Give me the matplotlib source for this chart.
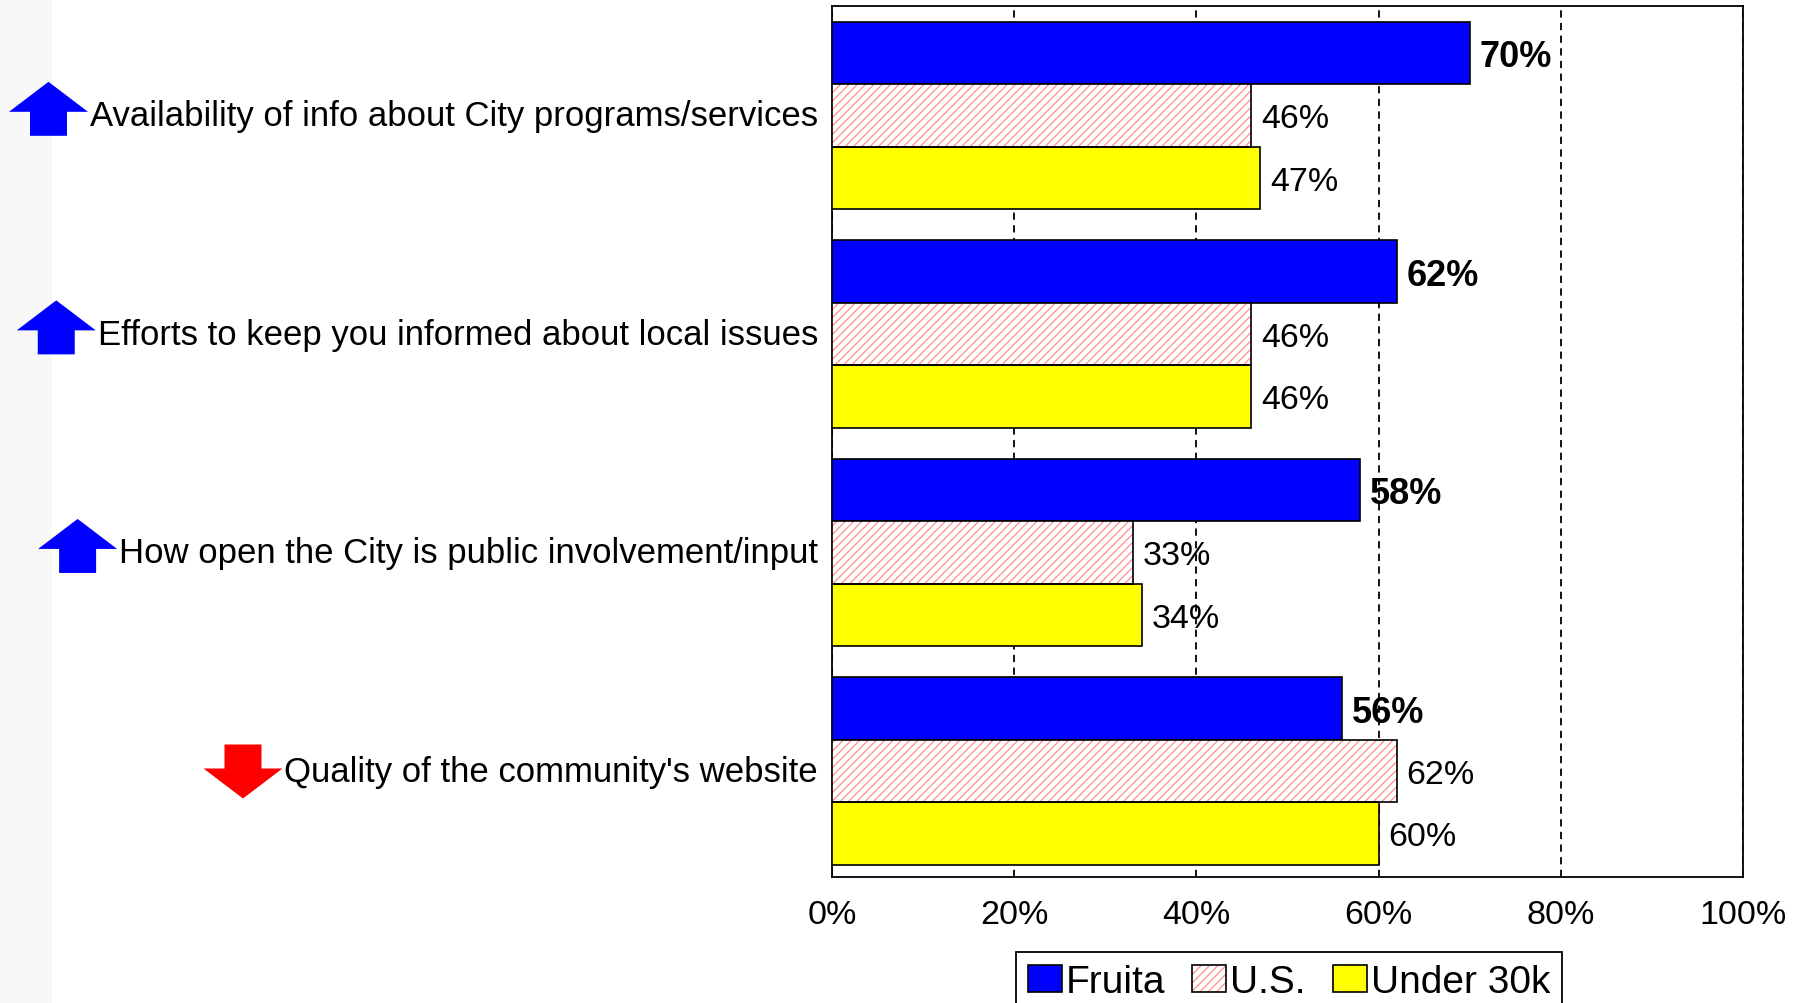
import matplotlib
matplotlib.use("Agg")
import matplotlib.pyplot as plt
import numpy as np
from matplotlib.patches import Polygon, Rectangle, Patch
from matplotlib.transforms import IdentityTransform, ScaledTranslation

plt.rcParams['font.family'] = ['Liberation Sans', 'DejaVu Sans']
plt.rcParams['hatch.linewidth'] = 0.9

# Survey items and the direction of change for each
categories = [
    "Availability of info about City programs/services",
    "Efforts to keep you informed about local issues",
    "How open the City is public involvement/input",
    "Quality of the community's website",
]
trend = ["up", "up", "up", "down"]

# Percent rating each item positively
fruita = [70, 62, 58, 56]
us = [46, 46, 33, 62]
under30k = [47, 46, 34, 60]

series_names = ["Fruita", "U.S.", "Under 30k"]
xtick_values = [0, 20, 40, 60, 80, 100]
xtick_labels = ["0%", "20%", "40%", "60%", "80%", "100%"]

BLUE = "#0000ff"
YELLOW = "#ffff00"
HATCH_RED = "#ff8c8c"

fig = plt.figure(figsize=(18.04, 10.04), dpi=100)

# faint strip along the left edge
fig.patches.append(Rectangle((0, 0), 52 / 1804, 1, transform=fig.transFigure,
                             facecolor="#f8f8f8", edgecolor="none", zorder=0))

ax = fig.add_axes([0.4612, 0.1255, 0.505, 0.8675])

h = 0.2857
y = np.arange(len(categories))
ew = 1.2

ax.barh(y - h, fruita, height=h, color=BLUE, edgecolor="black", linewidth=ew, zorder=3)
ax.barh(y, us, height=h, color="white", edgecolor=HATCH_RED, hatch="////", linewidth=0, zorder=3)
ax.barh(y, us, height=h, fill=False, edgecolor="black", linewidth=ew, zorder=4)
ax.barh(y + h, under30k, height=h, color=YELLOW, edgecolor="black", linewidth=ew, zorder=3)

for vals, off, weight, fs in [(fruita, -h, "bold", 26), (us, 0, "normal", 24.5),
                              (under30k, h, "normal", 24.5)]:
    for i, v in enumerate(vals):
        ax.annotate(f"{v}%", xy=(v, i + off), xytext=(7, 0), textcoords="offset points",
                    ha="left", va="center_baseline", fontsize=fs, fontweight=weight,
                    color="black", zorder=5)

ax.set_xlim(0, 100)
ax.set_ylim(len(categories) - 0.515, -0.5)
ax.set_xticks(xtick_values)
ax.set_xticklabels(xtick_labels, fontsize=24.5)
ax.set_yticks(y)
ax.set_yticklabels(categories, fontsize=25)
ax.tick_params(axis="x", length=0, pad=16)
ax.tick_params(axis="y", length=0, pad=10)

# nudge the category labels up slightly
lift = ScaledTranslation(0, 0.03, fig.dpi_scale_trans)
for lbl in ax.get_yticklabels():
    lbl.set_transform(lbl.get_transform() + lift)

ax.set_axisbelow(True)
ax.xaxis.grid(True, linestyle=(0, (4, 3)), color="black", linewidth=1.3)
ax.yaxis.grid(False)
for sp in ax.spines.values():
    sp.set_color("black")
    sp.set_linewidth(1.3)

handles = [
    Patch(facecolor=BLUE, edgecolor="black", linewidth=1.2),
    (Patch(facecolor="white", edgecolor=HATCH_RED, hatch="////", linewidth=0),
     Patch(fill=False, edgecolor="black", linewidth=1.2)),
    Patch(facecolor=YELLOW, edgecolor="black", linewidth=1.2),
]
leg = fig.legend(handles, series_names, loc="upper center", bbox_to_anchor=(0.7145, 0.0505),
                 ncol=3, fontsize=28, frameon=True, fancybox=False, edgecolor="black",
                 framealpha=1, handlelength=0.87, handleheight=0.67, handletextpad=0.1,
                 columnspacing=0.7, borderpad=0.3, borderaxespad=0)
leg.get_frame().set_linewidth(1.3)

# Trend arrows placed just left of each category label
fig.canvas.draw()
renderer = fig.canvas.get_renderer()
W, H, SW, HH = 79, 54, 37, 30
for lbl, t in zip(ax.get_yticklabels(), trend):
    bb = lbl.get_window_extent(renderer)
    right = bb.x0 - 2
    cx = right - W / 2
    if t == "up":
        cy = (bb.y0 + bb.y1) / 2 + 7
        top, bot = cy + H / 2, cy - H / 2
        pts = [(cx, top), (right, top - HH), (cx + SW / 2, top - HH), (cx + SW / 2, bot),
               (cx - SW / 2, bot), (cx - SW / 2, top - HH), (right - W, top - HH)]
        col = BLUE
    else:
        cy = (bb.y0 + bb.y1) / 2
        top, bot = cy + H / 2, cy - H / 2
        pts = [(cx, bot), (right, bot + HH), (cx + SW / 2, bot + HH), (cx + SW / 2, top),
               (cx - SW / 2, top), (cx - SW / 2, bot + HH), (right - W, bot + HH)]
        col = "#ff0000"
    fig.patches.append(Polygon(pts, closed=True, facecolor=col, edgecolor="none",
                               transform=IdentityTransform(), figure=fig))

fig.savefig("out.png", dpi=100)
